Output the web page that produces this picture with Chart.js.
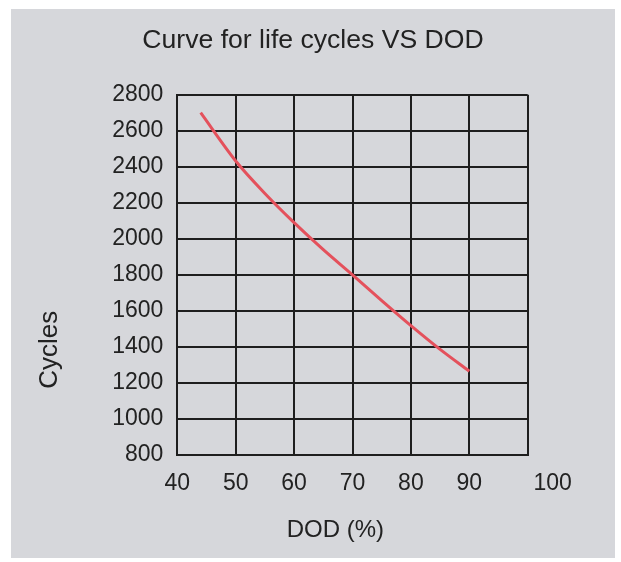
<!DOCTYPE html>
<html>
<head>
<meta charset="utf-8">
<title>Curve for life cycles VS DOD</title>
<script src="https://cdn.jsdelivr.net/npm/chart.js@4.4.1/dist/chart.umd.min.js"></script>
<style>
  html, body { margin: 0; padding: 0; background: #fff; }
  #panel { position: absolute; left: 11px; top: 9px; width: 604px; height: 549px; background: #d6d7db; }
  canvas { display: block; }
</style>
</head>
<body>
<div id="panel"><canvas id="lifeChart" width="604" height="549"></canvas></div>
<script>
// Data
const dodValues = [44, 50, 55, 60, 65, 70, 75, 80, 85, 90];
const cycleValues = [2700, 2432, 2252, 2090, 1940, 1800, 1657, 1518, 1386, 1265];

// Axis ticks
const xTickValues = [40, 50, 60, 70, 80, 90, 100];
const yTickValues = [800, 1000, 1200, 1400, 1600, 1800, 2000, 2200, 2400, 2600, 2800];

const FONT = '"Liberation Sans", Arial, Helvetica, sans-serif';
const TEXT = '#222222';
const GRID = '#1e1e1e';
const TICK_SIZE = 23;

// Labels that sit off the normal axis spots in the reference
const extraLabels = {
    id: 'extraLabels',
    afterDraw(chart) {
        const { ctx, scales: { x, y } } = chart;
        ctx.save();
        ctx.fillStyle = TEXT;
        ctx.textAlign = 'center';
        ctx.textBaseline = 'middle';

        // last x tick label is pushed right of the frame
        ctx.font = `${TICK_SIZE}px ${FONT}`;
        ctx.fillText(String(xTickValues[xTickValues.length - 1]), x.getPixelForValue(100) + 25, x.top + 15 + TICK_SIZE * 0.6);

        // x axis title
        ctx.font = `24px ${FONT}`;
        ctx.fillText('DOD (%)', x.left + 158, x.top + 75);

        // y axis title, sits low
        ctx.font = `26px ${FONT}`;
        ctx.translate(y.left + 39, y.top + 255);
        ctx.rotate(-Math.PI / 2);
        ctx.fillText('Cycles', 0, 0);
        ctx.restore();
    }
};

const data = {
    datasets: [{
        label: 'Cycles',
        data: dodValues.map((v, i) => ({ x: v, y: cycleValues[i] })),
        borderColor: '#e4515c',
        borderWidth: 3,
        pointRadius: 0,
        tension: 0.4,
        cubicInterpolationMode: 'monotone',
        fill: false
    }]
};

new Chart(document.getElementById('lifeChart'), {
    type: 'line',
    data: data,
    plugins: [extraLabels],
    options: {
        responsive: false,
        animation: false,
        layout: { padding: 0 },
        plugins: {
            legend: { display: false },
            tooltip: { enabled: false },
            title: {
                display: true,
                text: 'Curve for life cycles VS DOD',
                color: TEXT,
                font: { family: FONT, size: 26.6, weight: 'normal', lineHeight: 1.2 },
                padding: { top: 16, bottom: 37.8 }
            }
        },
        scales: {
            x: {
                type: 'linear',
                min: 40,
                max: 100,
                afterBuildTicks: s => { s.ticks = xTickValues.map(v => ({ value: v })); },
                afterFit: s => { s.height = 103; },
                grid: { color: GRID, lineWidth: 2, drawTicks: false },
                border: { color: GRID, width: 2 },
                ticks: {
                    padding: 15,
                    color: TEXT,
                    font: { family: FONT, size: TICK_SIZE },
                    maxRotation: 0,
                    callback: v => (v === 100 ? '' : String(v))
                }
            },
            y: {
                min: 800,
                max: 2800,
                afterBuildTicks: s => { s.ticks = yTickValues.map(v => ({ value: v })); },
                afterFit: s => { s.width = 166.3; },
                grid: { color: GRID, lineWidth: 2, drawTicks: false },
                border: { color: GRID, width: 2 },
                ticks: {
                    padding: 14,
                    color: TEXT,
                    font: { family: FONT, size: TICK_SIZE },
                    callback: v => String(v)
                }
            },
            // empty spacer on the right so the plot frame ends where the reference does
            spacer: {
                position: 'right',
                display: true,
                grid: { display: false },
                border: { display: false },
                ticks: { display: false },
                afterFit: s => { s.width = 87.3; }
            }
        }
    }
});
</script>
</body>
</html>
